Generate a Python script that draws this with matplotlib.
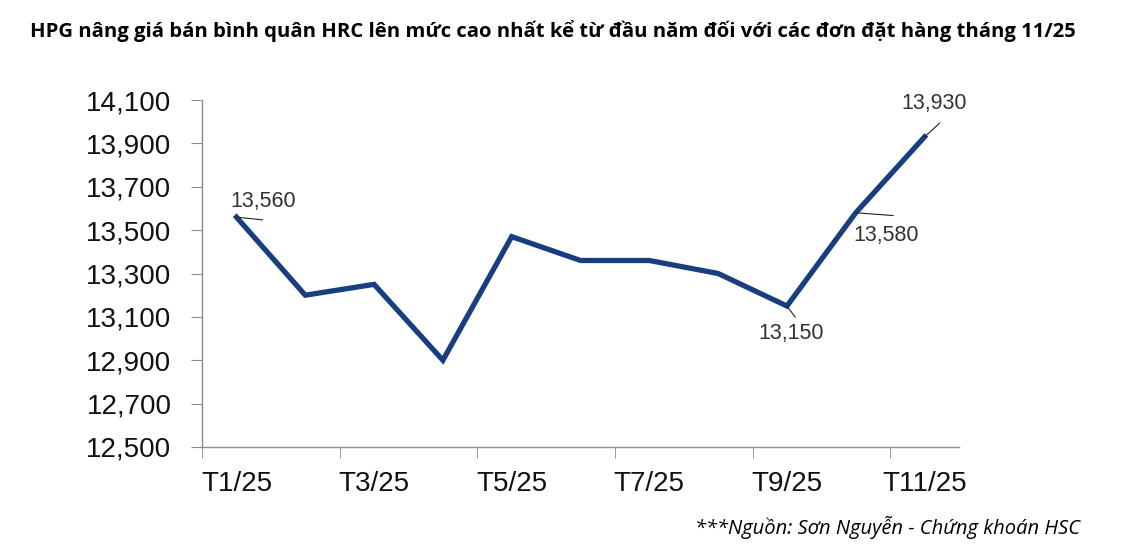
import matplotlib
matplotlib.use('Agg')
import matplotlib.pyplot as plt
from matplotlib.ticker import FuncFormatter

months = ['T1/25', 'T2/25', 'T3/25', 'T4/25', 'T5/25', 'T6/25',
          'T7/25', 'T8/25', 'T9/25', 'T10/25', 'T11/25']
prices = [13560, 13200, 13250, 12900, 13470, 13360, 13360, 13300, 13150, 13580, 13930]
labelled = [0, 8, 9, 10]

title = 'HPG nâng giá bán bình quân HRC lên mức cao nhất kể từ đầu năm đối với các đơn đặt hàng tháng 11/25'
source = '***Nguồn: Sơn Nguyễn - Chứng khoán HSC'

fig = plt.figure(figsize=(11.25, 5.55), dpi=100)
ax = fig.add_axes([0.1796, 0.1946, 0.8524 - 0.1796, 0.8198 - 0.1946])

x = list(range(len(months)))
ax.plot(x, prices, color='#173f80', linewidth=3.8, solid_joinstyle='miter')

# leader line end / label offsets in points (dx, dy)
leaders = {0: ((19, -2), (19, 11)), 8: ((6, -8), (3, -20)),
           9: ((27, -2), (22, -16)), 10: ((11, 10), (7, 24))}
for i in labelled:
    (lx, ly), (tx, ty) = leaders[i]
    ax.annotate('', xy=(x[i], prices[i]), xytext=(lx, ly), textcoords='offset points',
                arrowprops=dict(arrowstyle='-', color='#222222', lw=0.8, shrinkA=0, shrinkB=0))
    ax.annotate(f'{prices[i]:,}', xy=(x[i], prices[i]), xytext=(tx, ty),
                textcoords='offset points', ha='center', va='center',
                fontsize=15.5, color='#333333', family='Liberation Sans')

ax.set_xlim(-0.5, len(months) - 0.5)
ax.set_ylim(12500, 14100)
ax.set_yticks(range(12500, 14101, 200))
ax.yaxis.set_major_formatter(FuncFormatter(lambda v, p: f'{int(v):,}'))
ax.set_xticks(x[::2])
ax.set_xticklabels(months[::2])
ax.set_xticks([i - 0.5 for i in x[::2]], minor=True)

for s in ['top', 'right']:
    ax.spines[s].set_visible(False)
for s in ['left', 'bottom']:
    ax.spines[s].set_color('#8c8c8c')
    ax.spines[s].set_linewidth(1)

ax.tick_params(axis='y', which='major', length=8, color='#8c8c8c', pad=14, labelsize=20)
ax.tick_params(axis='x', which='major', length=0, pad=17, labelsize=20)
ax.tick_params(axis='x', which='minor', length=8, color='#8c8c8c')
for lab in ax.get_xticklabels() + ax.get_yticklabels():
    lab.set_family('Liberation Sans')
    lab.set_color('#111111')

fig.text(0.027, 0.945, title, fontsize=14.6, fontweight='bold', family='Open Sans',
         ha='left', va='center', color='black')
fig.text(0.96, 0.05, source, fontsize=14.5, style='italic', family='Open Sans',
         ha='right', va='center', color='black')

fig.savefig('out.png', dpi=100)
